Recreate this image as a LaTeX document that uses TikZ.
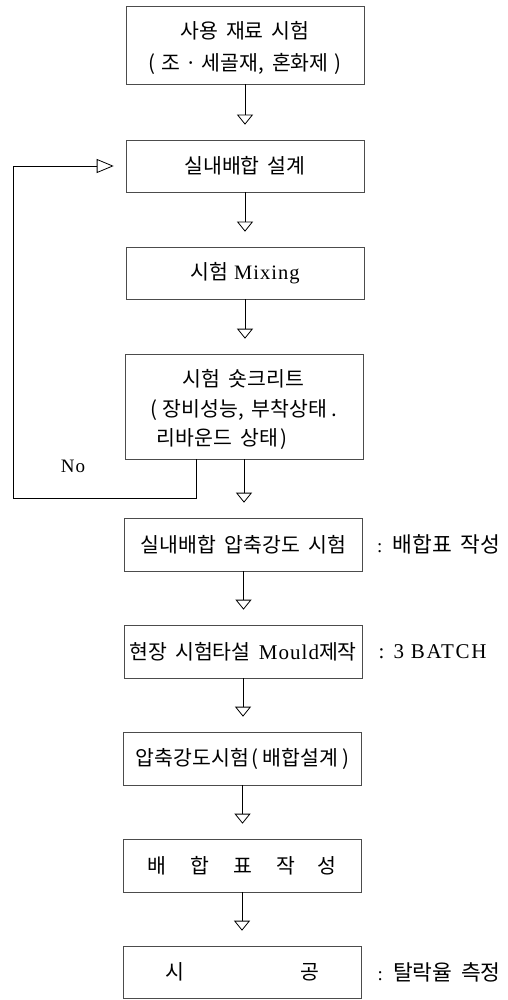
\documentclass[tikz,border=0pt]{standalone}
\usepackage{fontspec}
\setmainfont{Liberation Serif}[LetterSpace=5]
\newfontfamily\kr{Noto Sans CJK KR}[WordSpace=1.8]
\usetikzlibrary{arrows.meta,calc}
\begin{document}
\begin{tikzpicture}[x=1pt,y=-1pt,
  box/.style={draw=black!70, line width=0.6pt, rectangle, minimum width=238pt,
    inner sep=0pt, align=center, font=\kr\fontsize{20.5}{32}\selectfont},
  downarrow/.style={draw=black, line width=0.9pt,
    -{Triangle[open,width=16pt,length=10pt,line width=0.8pt]}, shorten >=15pt},
  backarrow/.style={draw=black, line width=0.9pt,
    -{Triangle[open,width=14pt,length=17pt,line width=0.8pt]}},
  side/.style={anchor=west, inner sep=0pt, font=\kr\fontsize{21.5}{22}\selectfont},
  nolabel/.style={inner sep=0pt, font=\fontsize{19}{20}\selectfont}]
\useasboundingbox (0,0) rectangle (507,1000);

\node[box, minimum height=78pt] (b1) at (245,45)
  {\rule{0pt}{24pt}사용\hspace{8pt}재료\hspace{8pt}시험\\(\hspace{6pt}조\hspace{5pt}·\hspace{5pt}세골재,\hspace{8pt}혼화제\hspace{6pt})};
\node[box, minimum height=52pt] (b2) at (245,166) {실내배합 설계};
\node[box, minimum height=52pt] (b3) at (245,273)
  {시험\hspace{6pt}{\rmfamily\fontsize{20.5}{20}\selectfont Mixing}};
\node[box, minimum height=105pt, align=left, font=\kr\fontsize{20.5}{29.5}\selectfont] (b4) at (244,406.5)
  {\rule{0pt}{24pt}\hspace*{32pt}시험 숏크리트\\(\hspace{5pt}장비성능,\hspace{8pt}부착상태\hspace{4pt}.\\\hspace*{6pt}리바운드 상태\hspace{2pt})};
\node[box, minimum height=53pt] (b5) at (243.5,544.5) {실내배합 압축강도 시험};
\node[box, minimum height=53pt] (b6) at (243,651.5)
  {현장 시험타설 {\rmfamily\fontsize{21}{20}\selectfont Mould}제작};
\node[box, minimum height=53pt] (b7) at (242.5,758.5)
  {압축강도시험\hspace{3pt}(\hspace{4pt}배합설계\hspace{4pt})};
\node[box, minimum height=53pt] (b8) at (242,865.5)
  {배\hspace{24pt}합\hspace{24pt}표\hspace{24pt}작\hspace{22pt}성};
\node[box, minimum height=52pt] (b9) at (242,972) {시\hspace{116pt}공};

\node[side] (s5) at ($(b5.east)+(14,0)$) {{\rmfamily\fontsize{19}{20}\selectfont :} 배합표 작성};
\node[side] (s6) at ($(b6.east)+(16,0)$) {{\rmfamily\addfontfeatures{LetterSpace=8}\fontsize{21}{22}\selectfont : 3 BATCH}};
\node[side] (s9) at ($(b9.east)+(16,0)$) {{\rmfamily\fontsize{19}{20}\selectfont :} 탈락율 측정};
\node[nolabel] (no) at (73,466) {No};

\foreach \a/\b in {b1/b2,b2/b3,b3/b4,b4/b5,b5/b6,b6/b7,b7/b8,b8/b9}
  \draw[downarrow] (\a.south) -- (\a.south |- \b.north);

\coordinate (fbx) at (196,0);
\coordinate (lx) at (13,498);
\draw[backarrow] (b4.south -| fbx) |- (lx) |- ([xshift=-12pt]b2.west);
\end{tikzpicture}
\end{document}
